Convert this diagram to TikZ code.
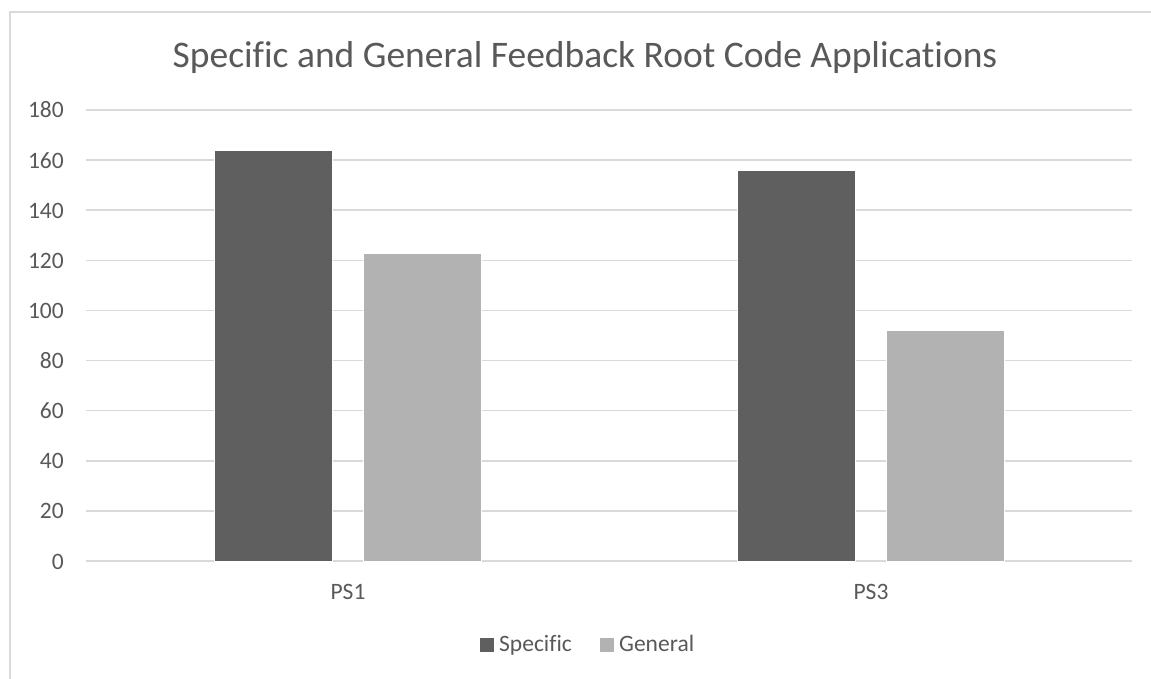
\documentclass[tikz,border=0pt]{standalone}
\usepackage{fontspec}
\setmainfont{Carlito}[Ligatures={NoCommon}]
\definecolor{txt}{HTML}{595959}
\definecolor{grid}{HTML}{D9D9D9}
\definecolor{dark}{HTML}{5F5F5F}
\definecolor{light}{HTML}{B2B2B2}
\tikzset{
  gridline/.style={draw=grid, line width=1.6pt},
  frameline/.style={draw=grid, line width=1.4pt},
  ylab/.style={anchor=base east, text=txt, font=\fontsize{23.5}{23.5}\selectfont, inner sep=0pt},
  xlab/.style={anchor=base, text=txt, font=\fontsize{23.5}{23.5}\selectfont, inner sep=0pt},
  leglab/.style={anchor=base west, text=txt, font=\fontsize{23.5}{23.5}\selectfont, inner sep=0pt},
  titlestyle/.style={anchor=base, text=txt, font=\fontsize{37.5}{37.5}\selectfont, inner sep=0pt},
  barbox/.style={anchor=south west, inner sep=0pt, outer sep=0pt, minimum width=118pt, draw=white, line width=0.6pt},
  legbox/.style={inner sep=0pt, minimum size=14pt},
}
\begin{document}
\begin{tikzpicture}[x=1pt,y=-1pt]
\useasboundingbox[fill=white] (0,0) rectangle (1151,679);
% frame
\coordinate (fTR) at (1151,12);
\coordinate (fTL) at (10,12);
\coordinate (fBL) at (10,679);
\draw[frameline] (fTR) -- (fTL) -- (fBL);
% title
\node[titlestyle] (title) at (585,68) {Specific and General Feedback Root Code Applications};
% grid and y labels
\foreach \v in {0,20,...,180}{
  \pgfmathsetmacro{\yy}{561-\v*2.5056}
  \coordinate (gL\v) at (86,\yy);
  \coordinate (gR\v) at (1132,\yy);
  \draw[gridline] (gL\v) -- (gR\v);
  \node[ylab] (yl\v) at (64,\yy+8) {\v};
}
% bars
\node[barbox, fill=dark, minimum height={164*2.5056pt}] (b1s) at (214,561) {};
\node[barbox, fill=light, minimum height={123*2.5056pt}] (b1g) at (363,561) {};
\node[barbox, fill=dark, minimum height={156*2.5056pt}] (b3s) at (737,561) {};
\node[barbox, fill=light, minimum height={92*2.5056pt}] (b3g) at (886,561) {};
% category labels
\node[xlab] (ps1) at (348,599) {PS1};
\node[xlab] (ps3) at (871,599) {PS3};
% legend
\node[legbox, fill=dark] (lsq1) at (487,645) {};
\node[leglab] (lt1) at (499,651) {Specific};
\node[legbox, fill=light] (lsq2) at (607,645) {};
\node[leglab] (lt2) at (619,651) {General};
\end{tikzpicture}
\end{document}
